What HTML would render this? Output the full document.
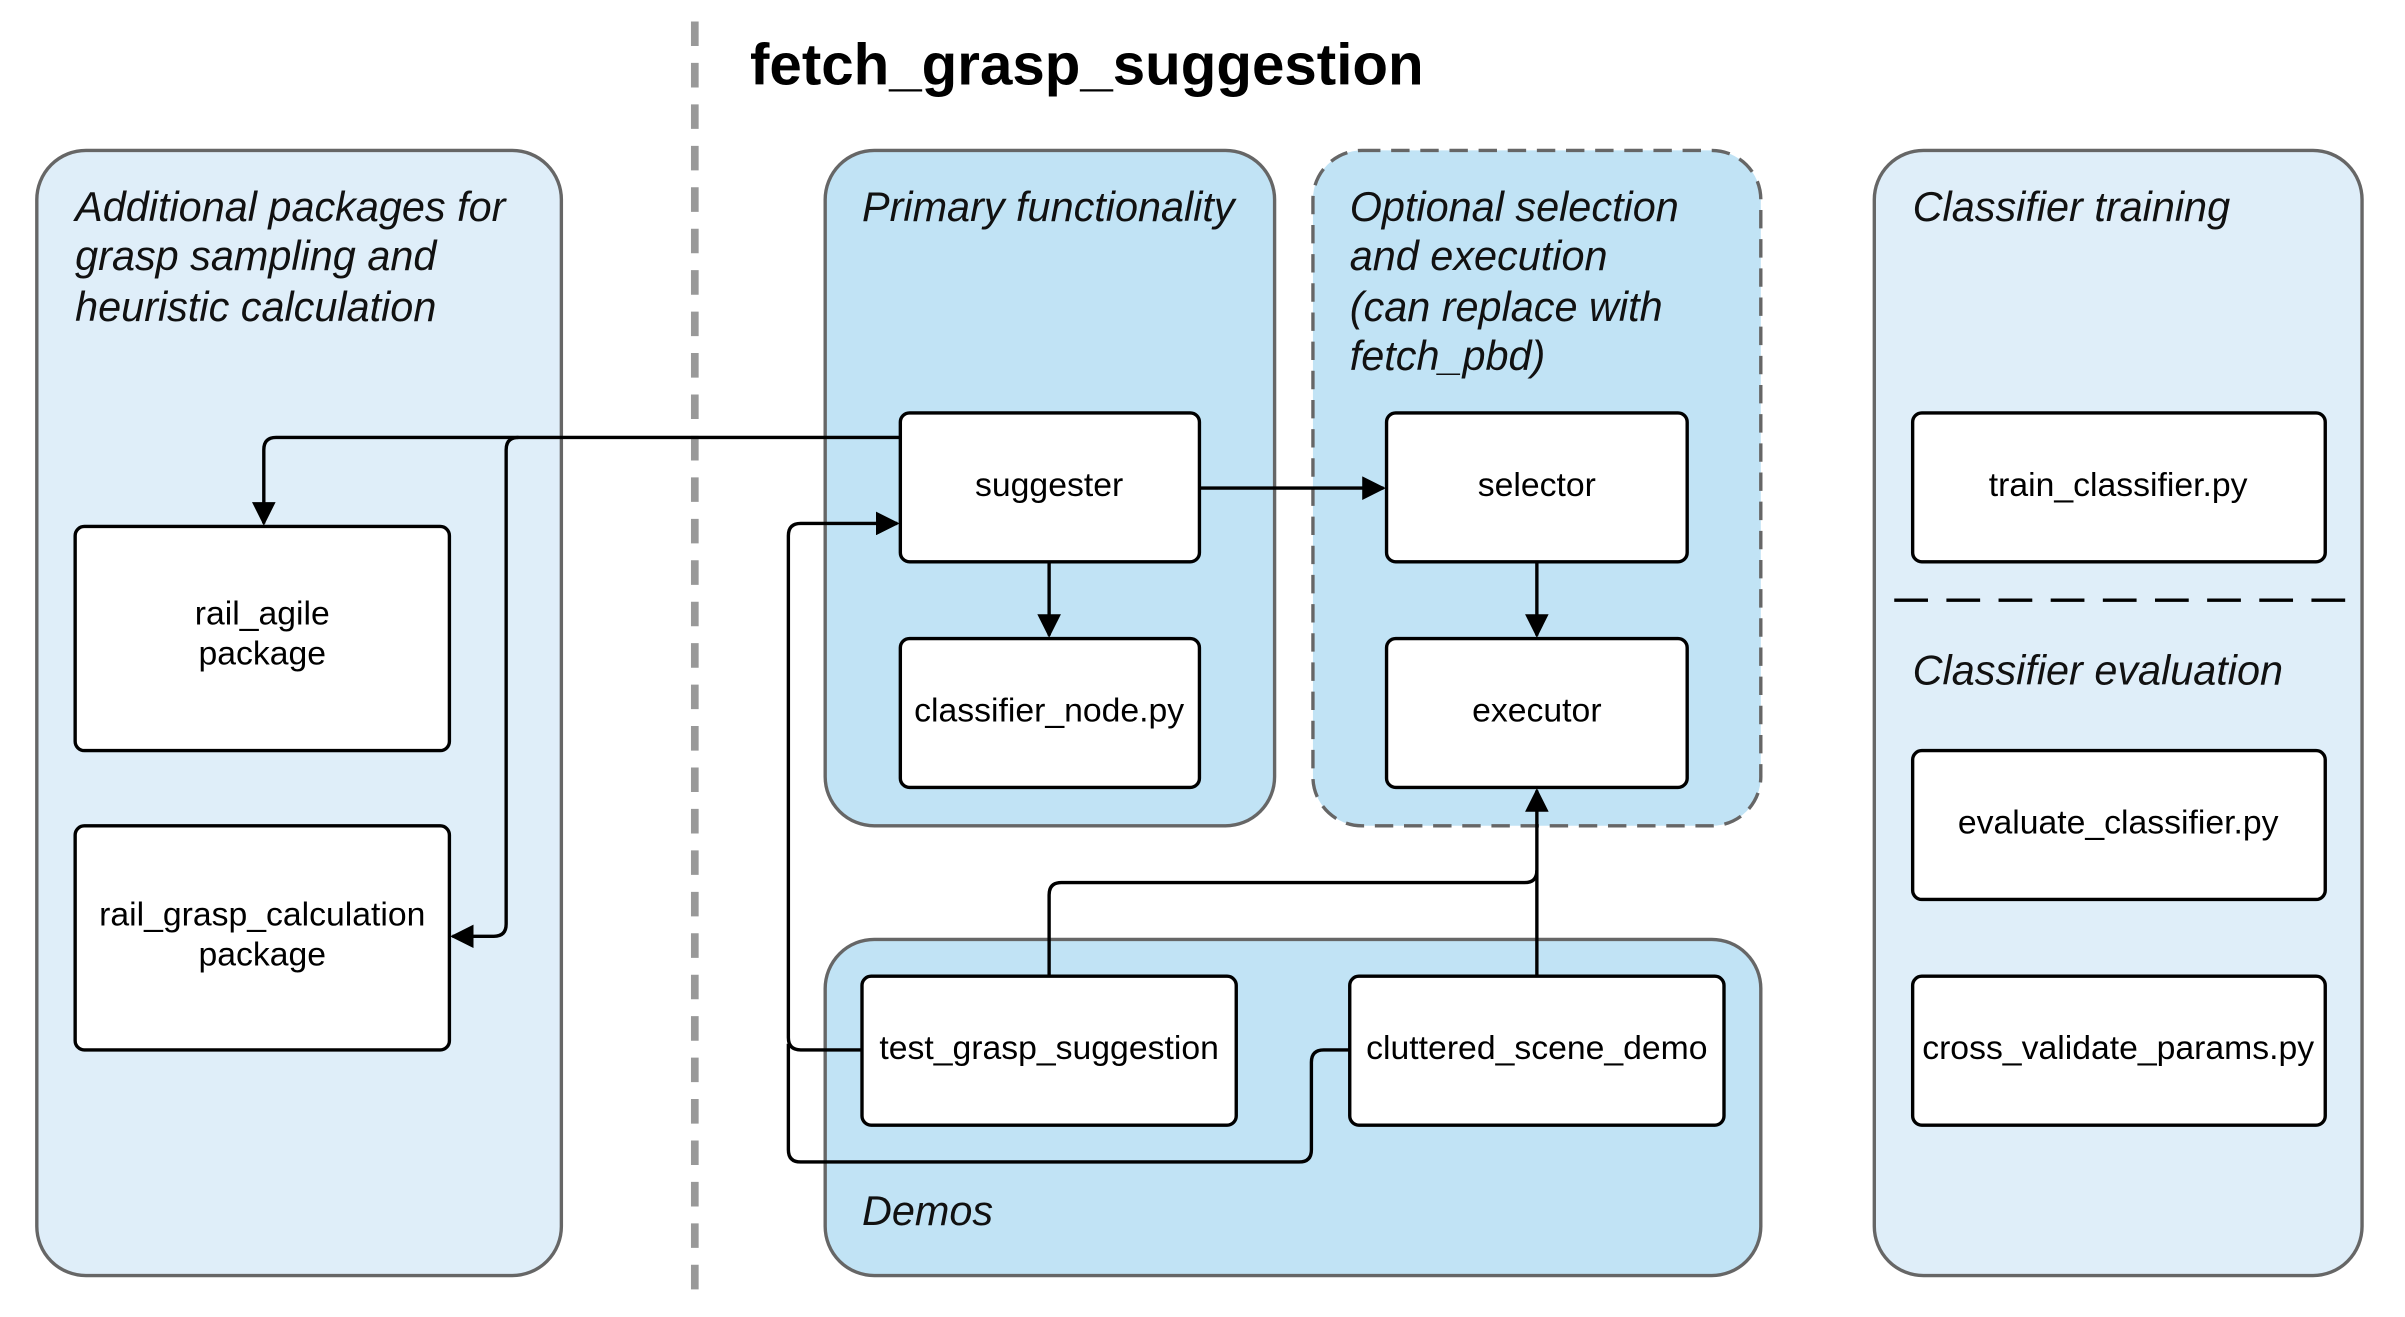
<!DOCTYPE html>
<html><head><meta charset="utf-8"><style>
html,body{margin:0;padding:0;background:#fff;}
svg{display:block;}
text{font-family:"Liberation Sans",sans-serif;}
.it{font-style:italic;font-size:27px;fill:#111;}
.bx{font-size:22px;fill:#000;text-anchor:middle;}
.box{fill:#fff;stroke:#000;stroke-width:2.2;}
.ln{fill:none;stroke:#000;stroke-width:2.2;}
</style></head><body>
<svg width="2405" height="1317" viewBox="0 0 1568 858" preserveAspectRatio="none" xmlns="http://www.w3.org/2000/svg">
<defs><marker id="a" viewBox="0 0 10 10" refX="9" refY="5" markerWidth="7" markerHeight="7" orient="auto-start-reverse"><path d="M0,0 L10,5 L0,10 z" fill="#000"/></marker></defs>
<rect width="1568" height="858" fill="#fff"/>
<line x1="453" y1="14" x2="453" y2="846" stroke="#999" stroke-width="5" stroke-dasharray="16,11"/>
<text x="489" y="55" font-size="38" font-weight="bold">fetch_grasp_suggestion</text>

<rect x="24" y="98" width="342" height="733" rx="32" fill="#dfeef9" stroke="#666" stroke-width="2.2"/>
<rect x="538" y="98" width="293" height="440" rx="32" fill="#c1e3f5" stroke="#666" stroke-width="2.2"/>
<rect x="856" y="98" width="292" height="440" rx="32" fill="#c1e3f5" stroke="#666" stroke-width="2.2" stroke-dasharray="12,7"/>
<rect x="538" y="612" width="610" height="219" rx="32" fill="#c1e3f5" stroke="#666" stroke-width="2.2"/>
<rect x="1222" y="98" width="318" height="733" rx="32" fill="#dfeef9" stroke="#666" stroke-width="2.2"/>

<text class="it" x="49" y="144">Additional packages for</text>
<text class="it" x="49" y="176">grasp sampling and</text>
<text class="it" x="49" y="209">heuristic calculation</text>
<text class="it" x="562" y="144">Primary functionality</text>
<text class="it" x="880" y="144">Optional selection</text>
<text class="it" x="880" y="176">and execution</text>
<text class="it" x="880" y="209">(can replace with</text>
<text class="it" x="880" y="241">fetch_pbd)</text>
<text class="it" x="562" y="798">Demos</text>
<text class="it" x="1247" y="144">Classifier training</text>
<text class="it" x="1247" y="446">Classifier evaluation</text>
<line x1="1235" y1="391" x2="1530" y2="391" stroke="#000" stroke-width="2.2" stroke-dasharray="22,12"/>

<path class="ln" d="M587,285 H180 Q172,285 172,293 V341" marker-end="url(#a)"/>
<path class="ln" d="M338,285 Q330,285 330,293 V602 Q330,610 322,610 H295" marker-end="url(#a)"/>
<path class="ln" d="M782,318 H902" marker-end="url(#a)"/>
<path class="ln" d="M684,366 V414" marker-end="url(#a)"/>
<path class="ln" d="M1002,366 V414" marker-end="url(#a)"/>
<path class="ln" d="M684,636 V583 Q684,575 692,575 H994 Q1002,575 1002,567"/>
<path class="ln" d="M1002,636 V515" marker-end="url(#a)"/>
<path class="ln" d="M562,684 H522 Q514,684 514,676 V349 Q514,341 522,341 H585" marker-end="url(#a)"/>
<path class="ln" d="M880,684 H863 Q855,684 855,692 V749 Q855,757 847,757 H522 Q514,757 514,749 V680"/>

<rect class="box" x="587" y="269" width="195" height="97" rx="6"/><text class="bx" x="684" y="323">suggester</text>
<rect class="box" x="587" y="416" width="195" height="97" rx="6"/><text class="bx" x="684" y="470">classifier_node.py</text>
<rect class="box" x="904" y="269" width="196" height="97" rx="6"/><text class="bx" x="1002" y="323">selector</text>
<rect class="box" x="904" y="416" width="196" height="97" rx="6"/><text class="bx" x="1002" y="470">executor</text>
<rect class="box" x="49" y="343" width="244" height="146" rx="6"/><text class="bx" x="171" y="407">rail_agile</text><text class="bx" x="171" y="433">package</text>
<rect class="box" x="49" y="538" width="244" height="146" rx="6"/><text class="bx" x="171" y="603">rail_grasp_calculation</text><text class="bx" x="171" y="629">package</text>
<rect class="box" x="1247" y="269" width="269" height="97" rx="6"/><text class="bx" x="1381" y="323">train_classifier.py</text>
<rect class="box" x="1247" y="489" width="269" height="97" rx="6"/><text class="bx" x="1381" y="543">evaluate_classifier.py</text>
<rect class="box" x="1247" y="636" width="269" height="97" rx="6"/><text class="bx" x="1381" y="690">cross_validate_params.py</text>
<rect class="box" x="562" y="636" width="244" height="97" rx="6"/><text class="bx" x="684" y="690">test_grasp_suggestion</text>
<rect class="box" x="880" y="636" width="244" height="97" rx="6"/><text class="bx" x="1002" y="690">cluttered_scene_demo</text>
</svg>
</body></html>
